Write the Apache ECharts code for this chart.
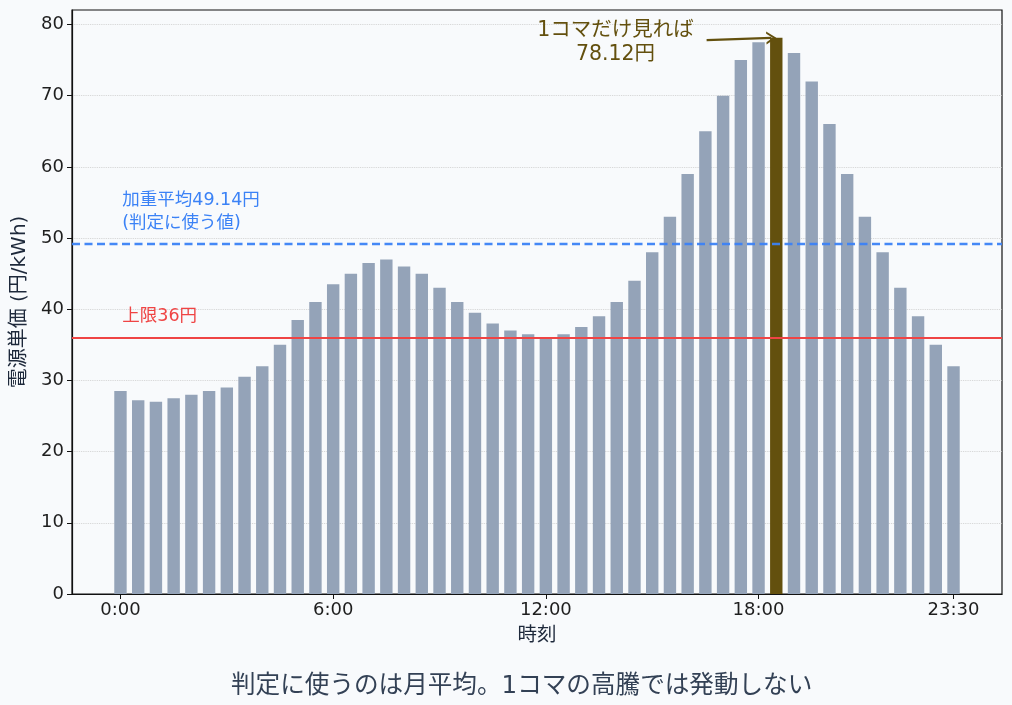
<!DOCTYPE html>
<html>
<head>
<meta charset="utf-8">
<script src="https://cdn.jsdelivr.net/npm/echarts@6/dist/echarts.min.js"></script>
<style>
  html, body { margin: 0; padding: 0; background: #f8fafc; }
  #chart { width: 1012px; height: 705px; }
</style>
</head>
<body>
<div id="chart"></div>
<script>
'use strict';

// 30分コマ (0:00 〜 23:30) の電源単価
var slotLabels = [];
for (var h = 0; h < 24; h++) {
  slotLabels.push(h + ':00', h + ':30');
}
var prices = [
  28.5, 27.2, 27.0, 27.5, 28.0, 28.5, 29.0, 30.5, 32.0, 35.0,
  38.5, 41.0, 43.5, 45.0, 46.5, 47.0, 46.0, 45.0, 43.0, 41.0,
  39.5, 38.0, 37.0, 36.5, 36.0, 36.5, 37.5, 39.0, 41.0, 44.0,
  48.0, 53.0, 59.0, 65.0, 70.0, 75.0, 77.5, 78.12, 76.0, 72.0,
  66.0, 59.0, 53.0, 48.0, 43.0, 39.0, 35.0, 32.0
];
var peakIndex = 37;
var weightedAvg = 49.14;
var capPrice = 36;
var xTickIdx = [0, 12, 24, 36, 47];
var yTicks = [0, 10, 20, 30, 40, 50, 60, 70, 80];

var FONT = '"DejaVu Sans", "Noto Sans CJK JP", sans-serif';

var barData = prices.map(function (v, i) {
  var item = { value: [i, v] };
  if (i === peakIndex) {
    item.itemStyle = { color: '#63500e' };
  }
  return item;
});

var myChart = echarts.init(document.getElementById('chart'));
var option = {
  backgroundColor: '#f8fafc',
  animation: false,
  textStyle: { fontFamily: FONT },
  title: {
    text: '判定に使うのは月平均。1コマの高騰では発動しない',
    left: 226,
    top: 669,
    textStyle: { fontFamily: FONT, fontSize: 24.6, fontWeight: 'normal', color: '#334155' }
  },
  grid: {
    left: 72, right: 10, top: 10, bottom: 111,
    show: true, borderColor: '#111', borderWidth: 1.2
  },
  xAxis: {
    type: 'value',
    min: -2.735,
    max: 49.735,
    name: '時刻',
    nameLocation: 'middle',
    nameGap: 32,
    nameTextStyle: { fontSize: 19.5, color: '#1e293b', fontFamily: FONT },
    axisLine: { show: true, onZero: false, lineStyle: { color: '#111', width: 1.2 } },
    axisTick: { show: true, customValues: xTickIdx, length: 5, lineStyle: { color: '#111' } },
    axisLabel: {
      customValues: xTickIdx,
      formatter: function (v) { return slotLabels[v]; },
      fontSize: 18, color: '#1e1e1e', margin: 7, fontFamily: FONT
    },
    splitLine: { show: false }
  },
  yAxis: {
    type: 'value',
    min: 0,
    max: 82.03,
    interval: 10,
    name: '電源単価 (円/kWh)',
    nameLocation: 'middle',
    nameGap: 42,
    nameTextStyle: { fontSize: 20, color: '#1e293b', fontFamily: FONT },
    axisLine: { show: true, onZero: false, lineStyle: { color: '#111', width: 1.2 } },
    axisTick: { show: true, customValues: yTicks, length: 5, lineStyle: { color: '#111' } },
    axisLabel: {
      customValues: yTicks,
      fontSize: 18, color: '#1e1e1e', margin: 8, fontFamily: FONT
    },
    splitLine: { show: true, lineStyle: { color: '#cfcfcf', type: 'dotted', width: 0.9 } }
  },
  series: [{
    type: 'bar',
    data: barData,
    barWidth: 12.4,
    itemStyle: { color: '#94a3b8' },
    markLine: {
      silent: true,
      symbol: 'none',
      label: { show: false },
      data: [
        { yAxis: weightedAvg, lineStyle: { color: '#3b82f6', type: [8, 4.5], width: 2.3, opacity: 0.95 } },
        { yAxis: capPrice, lineStyle: { color: '#ef4444', type: 'solid', width: 2.2 } },
        [
          { coord: [33.07, 77.8], symbol: 'none' },
          {
            coord: [36.72, 78.12],
            symbol: 'path://M0,10 L5,0 L10,10 L8.2,10 L5,3.6 L1.8,10 Z',
            symbolSize: [13, 10],
            lineStyle: { color: '#63500e', type: 'solid', width: 2.4 }
          }
        ]
      ]
    },
    markPoint: {
      silent: true,
      symbol: 'circle',
      symbolSize: 0,
      data: [
        {
          coord: [0.1, 53.7],
          label: {
            show: true, position: 'right', distance: 0, align: 'left',
            formatter: '加重平均' + weightedAvg.toFixed(2) + '円\n(判定に使う値)',
            fontSize: 17.5, lineHeight: 23, color: '#3b82f6', fontFamily: FONT
          }
        },
        {
          coord: [0.1, 39.0],
          label: {
            show: true, position: 'right', distance: 0, align: 'left',
            formatter: '上限' + capPrice + '円',
            fontSize: 17.5, color: '#ef4444', fontFamily: FONT
          }
        },
        {
          coord: [27.93, 77.5],
          label: {
            show: true, position: 'inside', align: 'center',
            formatter: '1コマだけ見れば\n' + prices[peakIndex].toFixed(2) + '円',
            fontSize: 20.5, lineHeight: 24, color: '#63500e', fontFamily: FONT
          }
        }
      ]
    }
  }]
};
myChart.setOption(option);
</script>
</body>
</html>
